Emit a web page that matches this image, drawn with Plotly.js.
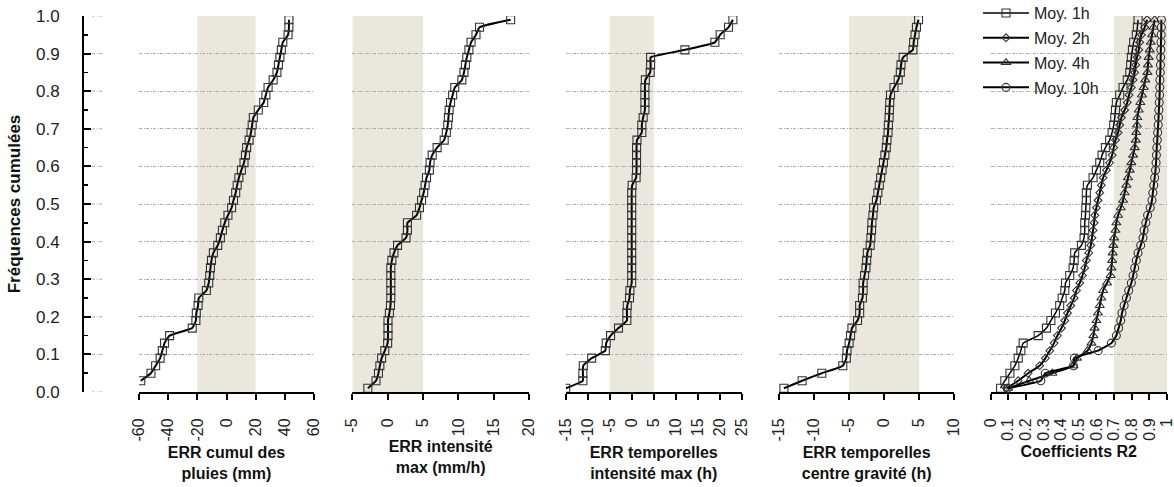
<!DOCTYPE html>
<html><head><meta charset="utf-8">
<script src="https://cdn.plot.ly/plotly-3.0.1.min.js"></script>
<style>html,body{margin:0;padding:0;background:#fff}#chart{width:1174px;height:487px}</style>
</head><body><div id="chart"></div>
<script>
// ---- data ----
const cumFreq = [0.01,0.03,0.05,0.07,0.09,0.11,0.13,0.15,0.17,0.19,0.21,0.23,0.25,0.27,0.29,0.31,0.33,0.35,0.37,0.39,0.41,0.43,0.45,0.47,0.49,0.51,0.53,0.55,0.57,0.59,0.61,0.63,0.65,0.67,0.69,0.71,0.73,0.75,0.77,0.79,0.81,0.83,0.85,0.87,0.89,0.91,0.93,0.95,0.97,0.99];
const cumFreqCumul = [0.03,0.05,0.07,0.09,0.11,0.13,0.15,0.17,0.19,0.21,0.23,0.25,0.27,0.29,0.31,0.33,0.35,0.37,0.39,0.41,0.43,0.45,0.47,0.49,0.51,0.53,0.55,0.57,0.59,0.61,0.63,0.65,0.67,0.69,0.71,0.73,0.75,0.77,0.79,0.81,0.83,0.85,0.87,0.89,0.91,0.93,0.95,0.97,0.99];
const errCumul = [-58.8,-51.8,-48.6,-45.5,-44,-42.5,-39,-23.5,-21,-20.7,-19.5,-19,-13.8,-12.2,-11.5,-11,-10.3,-9,-6,-4.2,-2.8,-1.2,1,3.5,4.8,6.3,7.3,8.5,10.2,12,13,13.8,15.5,16.8,17.6,18.4,21.8,25.5,27,28.5,32,34.6,35.6,36.6,37.6,38.6,42.2,42.8,42.8];
const errIntensite = [-2.8,-1.65,-1.3,-1.1,-0.85,-0.4,0,0.05,0.05,0.05,0.25,0.4,0.45,0.45,0.45,0.45,0.45,0.6,0.9,1.4,2.6,2.8,2.8,4.1,4.5,4.8,5.1,5.3,5.5,5.9,6.0,6.3,7.0,8.0,8.3,8.5,8.6,8.7,8.9,9.2,9.5,10.5,10.8,11.0,11.2,11.5,11.8,12.5,13.0,17.4];
const errTempIntensite = [-15,-11.1,-11.1,-11.0,-9.1,-6.0,-5.8,-4.8,-3.0,-1.1,-1.1,-1.0,-0.5,-0.4,0,0,0,0,0,0,0,0,0,0,0,0,0,0.1,1.0,1.1,1.1,1.1,1.1,1.2,2.3,2.3,2.6,3.0,3.0,3.0,3.0,3.1,4.2,4.3,4.3,12.1,18.9,20.1,22.0,23.0];
const errTempCentre = [-14.3,-11.7,-8.9,-5.9,-5.4,-5.3,-5.0,-4.8,-4.6,-3.8,-3.5,-3.5,-3.1,-3.0,-3.0,-2.8,-2.6,-2.5,-2.4,-2.0,-1.9,-1.8,-1.75,-1.6,-1.5,-1.1,-0.9,-0.7,-0.5,-0.3,-0.1,0.1,0.3,0.4,0.55,0.6,0.7,0.75,0.8,0.9,1.4,2.0,2.3,2.4,2.7,4.1,4.2,4.4,4.6,4.9];
const r2_1h = [0.057,0.081,0.11,0.138,0.157,0.172,0.185,0.27,0.317,0.342,0.368,0.392,0.406,0.421,0.425,0.449,0.468,0.474,0.477,0.515,0.53,0.534,0.534,0.538,0.54,0.543,0.543,0.549,0.581,0.6,0.619,0.632,0.651,0.675,0.689,0.698,0.704,0.708,0.713,0.732,0.751,0.775,0.789,0.794,0.798,0.804,0.811,0.826,0.832,0.836];
const r2_2h = [0.09,0.157,0.213,0.279,0.311,0.336,0.36,0.379,0.402,0.421,0.436,0.455,0.474,0.487,0.506,0.521,0.534,0.543,0.557,0.568,0.575,0.581,0.587,0.591,0.6,0.609,0.619,0.628,0.638,0.657,0.675,0.689,0.698,0.708,0.723,0.732,0.742,0.76,0.775,0.785,0.798,0.808,0.817,0.823,0.83,0.84,0.845,0.855,0.874,0.887];
const r2_4h = [0.1,0.22,0.35,0.47,0.49,0.55,0.572,0.583,0.59,0.6,0.609,0.619,0.628,0.638,0.66,0.68,0.685,0.689,0.692,0.696,0.70,0.708,0.713,0.723,0.738,0.751,0.76,0.77,0.779,0.789,0.798,0.808,0.817,0.823,0.826,0.83,0.832,0.84,0.849,0.858,0.868,0.877,0.889,0.892,0.896,0.902,0.908,0.915,0.923,0.93];
const r2_10h = [0.096,0.285,0.31,0.47,0.475,0.61,0.685,0.713,0.726,0.738,0.745,0.757,0.77,0.783,0.798,0.808,0.817,0.826,0.836,0.851,0.864,0.87,0.88,0.89,0.905,0.915,0.92,0.925,0.93,0.935,0.938,0.94,0.942,0.945,0.947,0.95,0.952,0.954,0.956,0.958,0.959,0.96,0.962,0.963,0.964,0.965,0.966,0.967,0.968,0.968];
const seriesNames = ['Moy. 1h','Moy. 2h','Moy. 4h','Moy. 10h'];
const ticksY = [0,0.1,0.2,0.3,0.4,0.5,0.6,0.7,0.8,0.9,1];
const ticksCumul = [-60,-40,-20,0,20,40,60];
const ticksCumulText = ['-60','-40','-20','0','20','40','60'];
const ticksInt = [-5,0,5,10,15,20];
const ticksIntText = ['-5','0','5','10','15','20'];
const ticksTI = [-15,-10,-5,0,5,10,15,20,25];
const ticksTIText = ['-15','-10','-5','0','5','10','15','20','25'];
const ticksTC = [-15,-10,-5,0,5,10];
const ticksTCText = ['-15','-10','-5','0','5','10'];
const ticksR2 = [0,0.1,0.2,0.3,0.4,0.5,0.6,0.7,0.8,0.9,1];
const ticksR2Text = ['0','0.1','0.2','0.3','0.4','0.5','0.6','0.7','0.8','0.9','1'];
const axisTitles = ['ERR cumul des<br>pluies (mm)','ERR intensité<br>max (mm/h)','ERR temporelles<br>intensité max (h)','ERR temporelles<br>centre gravité (h)','Coefficients R2'];
const yTitle = 'Fréquences cumulées';
const bands = [[-20,20],[-5,5],[-5,5],[-5,5],[0.7,1]];

// ---- layout helpers ----
const W = 1174;
const FONT = '"Liberation Sans", Arial, sans-serif';
const GRIDDASH = '3px,1.5px,1px,1.5px';
const GRIDCOLOR = '#aaaaaa';
const panels = [
  {ax:'x',  dom:[139,314],    range:[-60,60], tv:ticksCumul, tt:ticksCumulText},
  {ax:'x2', dom:[352.3,529],  range:[-5,20],  tv:ticksInt, tt:ticksIntText},
  {ax:'x3', dom:[565.7,741.7],range:[-15,25], tv:ticksTI, tt:ticksTIText},
  {ax:'x4', dom:[779,954.3],  range:[-15,10], tv:ticksTC, tt:ticksTCText},
  {ax:'x5', dom:[990.5,1167], range:[0,1],    tv:ticksR2, tt:ticksR2Text}
];
const lineSt = {color:'#000', width:2, shape:'spline', smoothing:0.4};
function mk(sym, size){ return {symbol:sym, size:size, color:'#333', line:{width:1.1, color:'#333'}}; }

const traces = [
  {x:errCumul, y:cumFreqCumul, xaxis:'x', yaxis:'y', mode:'lines+markers', line:lineSt, marker:mk('square-open',8), showlegend:false},
  {x:errIntensite, y:cumFreq, xaxis:'x2', yaxis:'y', mode:'lines+markers', line:lineSt, marker:mk('square-open',8), showlegend:false},
  {x:errTempIntensite, y:cumFreq, xaxis:'x3', yaxis:'y', mode:'lines+markers', line:lineSt, marker:mk('square-open',8), showlegend:false},
  {x:errTempCentre, y:cumFreq, xaxis:'x4', yaxis:'y', mode:'lines+markers', line:lineSt, marker:mk('square-open',8), showlegend:false},
  {x:r2_1h, y:cumFreq, xaxis:'x5', yaxis:'y', mode:'lines+markers', name:seriesNames[0], legendgroup:'a', line:Object.assign({}, lineSt, {width:1.5}), marker:mk('square-open',8)},
  {x:r2_2h, y:cumFreq, xaxis:'x5', yaxis:'y', mode:'lines+markers', name:seriesNames[1], legendgroup:'b', line:lineSt, marker:mk('diamond-open',6)},
  {x:r2_4h, y:cumFreq, xaxis:'x5', yaxis:'y', mode:'lines+markers', name:seriesNames[2], legendgroup:'c', line:lineSt, marker:mk('triangle-up-open',8)},
  {x:r2_10h, y:cumFreq, xaxis:'x5', yaxis:'y', mode:'lines+markers', name:seriesNames[3], legendgroup:'d', line:lineSt, marker:mk('circle-open',8)}
];

const layout = {
  width:1174, height:487,
  margin:{l:0, r:0, t:16, b:95, autoexpand:false},
  paper_bgcolor:'#fff', plot_bgcolor:'rgba(0,0,0,0)',
  font:{family:FONT, color:'#222', size:15},
  showlegend:true,
  legend:{x:978/W, xanchor:'left', y:1.053, yanchor:'top', bgcolor:'rgba(0,0,0,0)', font:{size:16, family:FONT, color:'#222'}, itemwidth:46, tracegroupgap:1, borderwidth:0},
  yaxis:{range:[0,1], anchor:'free', position:83/W, side:'left', tickmode:'array', tickvals:ticksY, tickformat:'.1f',
    ticks:'inside', ticklen:7, tickwidth:2, tickcolor:'#000', showline:true, linewidth:2, linecolor:'#000',
    showgrid:true, gridcolor:GRIDCOLOR, gridwidth:1, griddash:GRIDDASH, zeroline:false,
    minor:{dtick:0.05, tick0:0, ticks:'inside', ticklen:4, tickwidth:1.5, tickcolor:'#000', showgrid:false},
    tickfont:{size:17, color:'#222'}, ticklabelstandoff:19,
    title:{text:'<b>'+yTitle+'</b>', font:{size:17, color:'#111'}, standoff:10}},
  shapes:[]
};
panels.forEach((p,i)=>{
  const key = p.ax === 'x' ? 'xaxis' : 'xaxis' + p.ax.slice(1);
  layout[key] = {domain:[p.dom[0]/W, p.dom[1]/W], range:p.range, anchor:'y', tickmode:'array', tickvals:p.tv, ticktext:p.tt,
    tickangle:-90, ticks:'outside', ticklen:6, tickwidth:2, tickcolor:'#000', showline:true, linewidth:2, linecolor:'#000',
    showgrid:false, zeroline:false, tickfont:{size:16, color:'#222'}, ticklabelstandoff:12, ticklabeloverflow:'allow',
    title:{text:'<b>'+axisTitles[i]+'</b>', font:{size:16, color:'#111'}, standoff:6}};
  layout.shapes.push({type:'rect', xref:p.ax, yref:'y', x0:bands[i][0], x1:bands[i][1], y0:0, y1:1, fillcolor:'#eae7dd', line:{width:0}, layer:'below'});
});
// short gridline stubs right of the y axis (grid styling only)
ticksY.forEach(v=>{
  layout.shapes.push({type:'line', xref:'paper', yref:'y', x0:92/W, x1:102/W, y0:v, y1:v, line:{color:GRIDCOLOR, width:1, dash:GRIDDASH}, layer:'below'});
});

Plotly.newPlot('chart', traces, layout, {displayModeBar:false, staticPlot:true});
</script>
</body></html>
